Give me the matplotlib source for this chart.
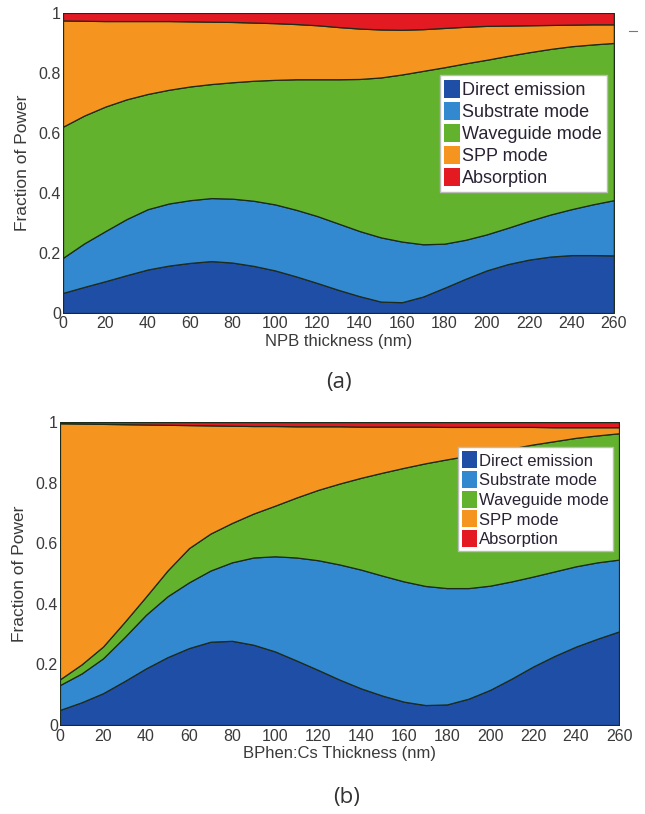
import numpy as np
import matplotlib

matplotlib.use("Agg")
import matplotlib.pyplot as plt
from matplotlib.lines import Line2D

plt.rcParams["font.family"] = ["Liberation Sans", "DejaVu Sans"]

# thickness grid (nm), shared by both panels
thickness = np.arange(0, 261, 10)

mode_names = ["Direct emission", "Substrate mode", "Waveguide mode", "SPP mode", "Absorption"]
mode_colors = ["#1f4ea6", "#3389d0", "#63b22e", "#f5951f", "#e31a22"]

# (a) NPB thickness sweep, fraction of power per mode
npb_direct = [0.067, 0.087, 0.106, 0.126, 0.145, 0.158, 0.167, 0.173, 0.168, 0.157,
              0.142, 0.122, 0.100, 0.077, 0.056, 0.038, 0.036, 0.055, 0.084, 0.114,
              0.142, 0.163, 0.178, 0.188, 0.193, 0.193, 0.192]
npb_substrate = [0.117, 0.145, 0.167, 0.187, 0.201, 0.207, 0.209, 0.210, 0.213, 0.217,
                 0.220, 0.222, 0.223, 0.221, 0.217, 0.214, 0.202, 0.174, 0.147, 0.130,
                 0.120, 0.121, 0.129, 0.140, 0.153, 0.169, 0.184]
npb_waveguide = [0.437, 0.426, 0.415, 0.399, 0.384, 0.379, 0.379, 0.380, 0.388, 0.400,
                 0.415, 0.435, 0.456, 0.481, 0.507, 0.533, 0.557, 0.578, 0.588, 0.588,
                 0.582, 0.573, 0.562, 0.552, 0.543, 0.533, 0.524]
npb_spp = [0.354, 0.316, 0.285, 0.261, 0.243, 0.229, 0.217, 0.208, 0.201, 0.194,
           0.189, 0.184, 0.180, 0.174, 0.168, 0.160, 0.149, 0.139, 0.131, 0.122,
           0.113, 0.101, 0.090, 0.080, 0.072, 0.067, 0.062]
npb_absorption = [0.025, 0.026, 0.027, 0.027, 0.027, 0.027, 0.028, 0.029, 0.030, 0.032,
                  0.034, 0.037, 0.041, 0.047, 0.052, 0.055, 0.056, 0.054, 0.050, 0.046,
                  0.043, 0.042, 0.041, 0.040, 0.039, 0.038, 0.038]

# (b) BPhen:Cs thickness sweep
bphen_direct = [0.050, 0.075, 0.105, 0.145, 0.187, 0.224, 0.254, 0.275, 0.278, 0.265,
                0.243, 0.213, 0.182, 0.150, 0.121, 0.097, 0.077, 0.066, 0.068, 0.087,
                0.116, 0.153, 0.193, 0.228, 0.259, 0.285, 0.309]
bphen_substrate = [0.082, 0.095, 0.115, 0.145, 0.177, 0.201, 0.217, 0.235, 0.259, 0.288,
                   0.314, 0.340, 0.362, 0.380, 0.392, 0.396, 0.397, 0.393, 0.384, 0.365,
                   0.344, 0.321, 0.297, 0.279, 0.265, 0.252, 0.237]
bphen_waveguide = [0.019, 0.030, 0.039, 0.050, 0.060, 0.085, 0.113, 0.122, 0.130, 0.145,
                   0.167, 0.198, 0.232, 0.267, 0.303, 0.340, 0.375, 0.405, 0.425, 0.437,
                   0.439, 0.439, 0.436, 0.430, 0.424, 0.419, 0.417]
bphen_spp = [0.845, 0.795, 0.735, 0.653, 0.568, 0.481, 0.406, 0.357, 0.321, 0.289,
             0.263, 0.235, 0.210, 0.189, 0.169, 0.152, 0.136, 0.121, 0.107, 0.095,
             0.085, 0.071, 0.058, 0.046, 0.035, 0.027, 0.020]
bphen_absorption = [0.004, 0.005, 0.006, 0.007, 0.008, 0.009, 0.010, 0.011, 0.012, 0.013,
                    0.013, 0.014, 0.014, 0.014, 0.015, 0.015, 0.015, 0.015, 0.016, 0.016,
                    0.016, 0.016, 0.016, 0.017, 0.017, 0.017, 0.017]

x_ticks = np.arange(0, 261, 20)
y_ticks = [0, 0.2, 0.4, 0.6, 0.8, 1]
y_tick_labels = ["0", "0.2", "0.4", "0.6", "0.8", "1"]


def draw_panel(ax, layers, xlabel, legend_anchor, legend_size):
    polys = ax.stackplot(thickness, *layers, colors=mode_colors, labels=mode_names,
                         edgecolor="#1d2b1a", linewidth=0.9)
    ax.set_xlim(0, 260)
    ax.set_ylim(0, 1)
    ax.set_xticks(x_ticks)
    ax.set_yticks(y_ticks)
    ax.set_yticklabels(y_tick_labels)
    ax.tick_params(length=0, labelsize=11.5, labelcolor="#3a3a3a")
    ax.tick_params(axis="x", pad=2.5)
    ax.tick_params(axis="y", pad=1.5)
    for s in ax.spines.values():
        s.set_visible(False)
    ax.set_xlabel(xlabel, fontsize=12, color="#3a3a3a", labelpad=2)
    ax.set_ylabel("Fraction of Power", fontsize=12.5, color="#3a3a3a", labelpad=6)
    leg = ax.legend(polys, mode_names, loc="upper right", bbox_to_anchor=legend_anchor,
                    fontsize=legend_size, frameon=True, fancybox=False, framealpha=1,
                    edgecolor="#bbbbbb", handlelength=0.9, handleheight=1.2,
                    handletextpad=0.1, labelspacing=0.15, borderpad=0.25,
                    borderaxespad=0)
    for t in leg.get_texts():
        t.set_color("#2a2233")
    for h in leg.legend_handles:
        h.set_linewidth(0)


fig = plt.figure(figsize=(6.45, 8.14), dpi=100)
ax_a = fig.add_axes([0.0977, 0.6155, 0.854, 0.3686])
ax_b = fig.add_axes([0.093, 0.1093, 0.8667, 0.3722])

draw_panel(ax_a, [npb_direct, npb_substrate, npb_waveguide, npb_spp, npb_absorption],
           "NPB thickness (nm)", (0.987, 0.793), 13)
draw_panel(ax_b, [bphen_direct, bphen_substrate, bphen_waveguide, bphen_spp, bphen_absorption],
           "BPhen:Cs Thickness (nm)", (0.989, 0.917), 12)

fig.text(339 / 645, 1 - 382 / 814, "(a)", ha="center", va="center",
         fontsize=16, color="#333333", family=["Open Sans", "DejaVu Sans"])
fig.text(347 / 645, 1 - 797 / 814, "(b)", ha="center", va="center",
         fontsize=16, color="#333333", family=["Open Sans", "DejaVu Sans"])

# small tick mark to the right of the upper panel
fig.lines.append(Line2D([629 / 645, 637 / 645], [1 - 31 / 814, 1 - 31 / 814],
                        transform=fig.transFigure, color="#777777", linewidth=0.8))

fig.savefig("out.png", dpi=100)
plt.close(fig)
